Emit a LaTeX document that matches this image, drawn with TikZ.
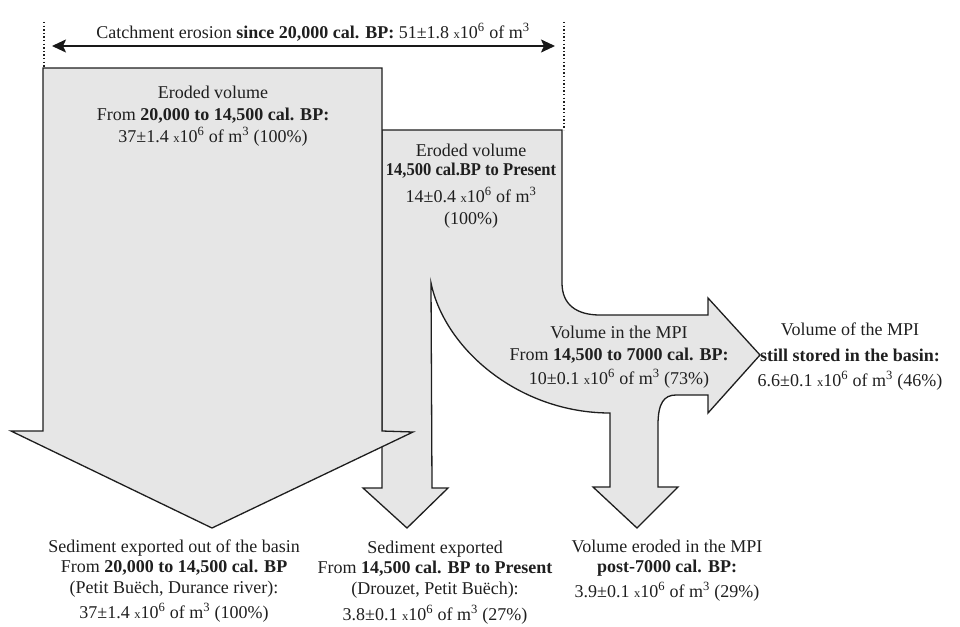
\documentclass[tikz,border=0pt]{standalone}
\usepackage{fontspec}
\setmainfont{Liberation Serif}
\usetikzlibrary{arrows.meta}
\definecolor{flowfill}{HTML}{E6E6E6}
\definecolor{flowline}{HTML}{1E1E1E}
\newcommand{\xten}{{\fontsize{12.5}{12.5}\selectfont x}10\textsuperscript{6}}
\newcommand{\mcub}{m\textsuperscript{3}}
\begin{document}
\begin{tikzpicture}[x=1pt,y=-1pt,
  flow/.style={fill=flowfill,draw=flowline,line width=1.3pt,line join=miter},
  lbl/.style={align=center,inner sep=0pt,anchor=base,text=black!88,font=\fontsize{18}{22}\selectfont},
  guide/.style={draw=flowline,line width=1.3pt,dash pattern=on 1.4pt off 2.2pt},
  span/.style={draw=black!90,line width=1.8pt,{Stealth[length=14pt,width=13pt,inset=3pt]}-{Stealth[length=14pt,width=13pt,inset=3pt]}}]
\useasboundingbox (0,0) rectangle (960,626);

% second flow (14,500 cal BP to present) with branches
\draw[flow] (382,130) -- (562,130) -- (562,283)
  .. controls (562,305) and (577,315) .. (600,315) -- (708,315) -- (708,298)
  -- (760,355) -- (708,413) -- (708,395) -- (676,395)
  .. controls (664,395) and (658,403) .. (658,425) -- (658,487) -- (678,487)
  -- (637,528) -- (593,487) -- (610,487) -- (610,413)
  .. controls (520,413) and (445,350) .. (431,283) -- (432,488) -- (448,488)
  -- (407,528) -- (363,488) -- (382,488) -- cycle;

% first flow (20,000 to 14,500 cal BP)
\draw[flow] (43,68) -- (382,68) -- (382,431) -- (413,432) -- (212,528)
  -- (11,431) -- (43,431) -- cycle;

% span arrow and guides
\coordinate (d1t) at (44,22);
\coordinate (d1b) at (44,68);
\coordinate (d2t) at (564,22);
\coordinate (d2b) at (564,130);
\coordinate (al) at (52,46);
\coordinate (ar) at (555,46);
\draw[guide] (d1t) -- (d1b);
\draw[guide] (d2t) -- (d2b);
\draw[span] (al) -- (ar);

% labels (anchor base = baseline of the last line)
\node[lbl] (top) at (313,38) {Catchment erosion \textbf{since 20,000 cal. BP:} 51±1.8 \xten{} of \mcub};

\node[lbl] (l1) at (213,142) {Eroded volume\\From \textbf{20,000 to 14,500 cal. BP:}\\37±1.4 \xten{} of \mcub{} (100\%)};

\node[lbl] (m1) at (471,224) {Eroded volume\\[-3pt]\scalebox{0.92}[1]{\textbf{14,500 cal.BP to Present}}\\[5pt]14±0.4 \xten{} of \mcub\\(100\%)};

\node[lbl] (r1) at (619,384) {Volume in the MPI\\From \textbf{14,500 to 7000 cal. BP:}\\[2pt]10±0.1 \xten{} of \mcub{} (73\%)};

\node[lbl] (f1) at (850,386) {Volume of the MPI\\[4pt]\textbf{still stored in the basin:}\\[3pt]6.6±0.1 \xten{} of \mcub{} (46\%)};

\node[lbl] (b1) at (174,618) {Sediment exported out of the basin\\[-2pt]From \textbf{20,000 to 14,500 cal. BP}\\[-1pt](Petit Buëch, Durance river):\\[3pt]37±1.4 \xten{} of \mcub{} (100\%)};

\node[lbl] (b2) at (435,620) {Sediment exported\\[-2pt]From \textbf{14,500 cal. BP to Present}\\[-1pt](Drouzet, Petit Buëch):\\[4pt]3.8±0.1 \xten{} of \mcub{} (27\%)};

\node[lbl] (b3) at (667,597) {Volume eroded in the MPI\\[-2pt]\textbf{post-7000 cal. BP:}\\[3pt]3.9±0.1 \xten{} of \mcub{} (29\%)};
\end{tikzpicture}
\end{document}
